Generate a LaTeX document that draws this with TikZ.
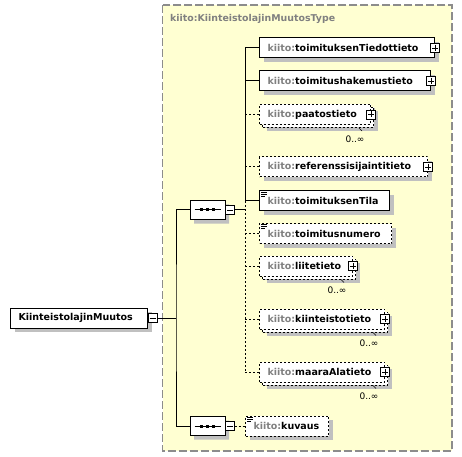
\documentclass[tikz,border=0pt]{standalone}
\usepackage{fontspec}
\setmainfont{DejaVu Sans}
\usetikzlibrary{shapes.misc,shadows}

\definecolor{typeyellow}{RGB}{255,255,210}
\definecolor{typeborder}{RGB}{140,140,140}
\definecolor{prefixgray}{RGB}{128,128,128}
\definecolor{shadowgray}{RGB}{192,192,192}

\newcommand{\kt}{\textcolor{prefixgray}{kiito:}}

\tikzset{
  elem/.style={draw, fill=white, line width=1bp, anchor=west,
    minimum height=20bp, inner xsep=8bp, inner ysep=0pt, text width=#1,
    font=\fontsize{9.5bp}{11bp}\selectfont\bfseries,
    drop shadow={shadow xshift=4bp, shadow yshift=-4bp, fill=shadowgray, opacity=1}},
  optional/.style={dash pattern=on 2bp off 2bp},
  multi/.style={elem=#1, optional,
    drop shadow={shadow xshift=7bp, shadow yshift=-7bp, fill=shadowgray, opacity=1},
    copy shadow={shadow xshift=3bp, shadow yshift=-3bp, line width=1bp,
      dash pattern=on 2bp off 2bp, fill=white, draw=black}},
  seqbox/.style={chamfered rectangle, chamfered rectangle xsep=5bp,
    chamfered rectangle ysep=5bp, draw, fill=white, line width=1bp,
    minimum width=35bp, minimum height=19bp, inner sep=0pt,
    drop shadow={shadow xshift=4bp, shadow yshift=-4bp, fill=shadowgray, opacity=1}},
  link/.style={line width=1bp},
  occurs/.style={font=\fontsize{9bp}{10bp}\selectfont, inner sep=0pt}
}

% plus / minus signs on the right border of a box
\newcommand{\plusmark}[1]{%
  \draw[line width=0.8bp, fill=white] (#1) +(-4.5,-4.5) rectangle +(4.5,4.5);
  \draw[line width=0.8bp] (#1) +(-3,0) -- +(3,0) +(0,-3) -- +(0,3);}
\newcommand{\minusmark}[1]{%
  \draw[line width=0.8bp, fill=white] (#1) +(0,-4.5) rectangle +(9,4.5);
  \draw[line width=0.8bp] (#1) +(1.5,0) -- +(7.5,0);}
\newcommand{\simplemark}[1]{%
  \draw[line width=0.8bp] (#1) +(2,1.5) -- +(8,1.5) +(2,3.5) -- +(8,3.5) +(2,5.5) -- +(6,5.5);}
\newcommand{\seqdots}[1]{%
  \draw[line width=1bp] (#1) +(-13,0) -- +(13,0);
  \foreach \dx in {-6,0,6} \fill (#1) +(\dx-1.5,-1.5) rectangle +(\dx+1.5,1.5);}

\begin{document}
\begin{tikzpicture}[x=1bp,y=-1bp]
            \useasboundingbox (0,0) rectangle (462,457);

            % Drawing the complex type area
            \draw [fill=typeyellow, draw=typeborder, line width=1.3bp, dash pattern=on 8bp off 3bp]
                  (162.5,5) rectangle (452,451);%
            \node [anchor=west, text=prefixgray, font=\fontsize{9.4bp}{11bp}\selectfont\bfseries, inner sep=0pt]
                  (typename) at (170,19) {kiito:KiinteistolajinMuutosType};%

            % Marking the root element
            \node [elem=121bp] (muutos) at (10,318) {KiinteistolajinMuutos};%

            % Marking the two sequences
            \node [seqbox] (seqA) at (207.5,210) {};%
            \node [seqbox] (seqB) at (207.5,426) {};%
            \coordinate (trunk) at (176,318);%
            \coordinate (branch) at (245,210);%

            % Marking the child elements
            \node [elem=159bp] (tiedot) at (259,48) {\kt toimituksenTiedottieto};%
            \node [elem=155bp] (hakemus) at (259,81) {\kt toimitushakemustieto};%
            \node [multi=95bp] (paatos) at (259,114.5) {\kt paatostieto};%
            \node [elem=152bp, optional] (sijainti) at (259,167) {\kt referenssisijaintitieto};%
            \node [elem=114bp] (tila) at (259,201) {\kt toimituksenTila};%
            \node [elem=116bp, optional] (numero) at (259,233.5) {\kt toimitusnumero};%
            \node [multi=77bp] (liite) at (259,266) {\kt liitetieto};%
            \node [multi=109bp] (kiinteisto) at (259,319) {\kt kiinteistotieto};%
            \node [multi=109bp] (maara) at (259,372) {\kt maaraAlatieto};%
            \node [elem=67bp, optional] (kuvaus) at (245,426) {\kt kuvaus};%

            % Drawing the connectors
            \draw [link] (muutos.east) ++(5,0) -- (trunk);%
            \draw [link] (seqA.west) -| (trunk) |- (seqB.west);%
            \draw [link] (seqA.east) ++(9,0) -- (branch);%
            \draw [link] (branch |- tiedot.west) -- (branch |- tila.west);%
            \draw [link, optional] (branch |- tila.west) -- (branch |- maara.west);%
            \foreach \n in {tiedot,hakemus,tila}
              \draw [link] (branch |- \n.west) -- (\n.west);%
            \foreach \n in {paatos,sijainti,numero,liite,kiinteisto,maara}
              \draw [link, optional] (branch |- \n.west) -- (\n.west);%
            \draw [link, optional] (seqB.east) ++(9,0) -- (kuvaus.west);%

            % Marking signs, icons and occurrences
            \minusmark{muutos.east}%
            \minusmark{seqA.east}%
            \minusmark{seqB.east}%
            \seqdots{seqA.center}%
            \seqdots{seqB.center}%
            \foreach \n in {tiedot,hakemus,paatos,sijainti,liite,kiinteisto,maara}
              {\plusmark{\n.east}}%
            \foreach \n in {tila,numero,kuvaus}
              {\simplemark{\n.north west}}%
            \foreach \n in {paatos,liite,kiinteisto,maara}
              {\draw [line width=0.6bp] (\n.south east) ++(-12,3) -- ++(3,3);%
               \node [occurs] (\n-occ) at ([shift={(-16,14)}]\n.south east) {0..∞};}%
\end{tikzpicture}
\end{document}
